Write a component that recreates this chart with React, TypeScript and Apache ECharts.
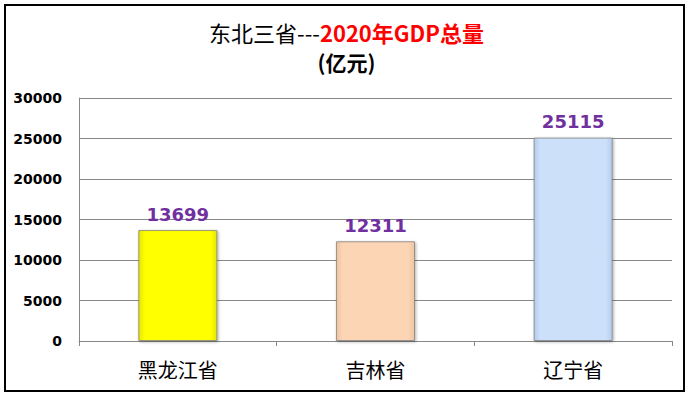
import React, { useEffect, useRef } from "react";
import * as echarts from "echarts";

const categories = ["黑龙江省", "吉林省", "辽宁省"];
const gdpValues = [13699, 12311, 25115];
const barColors = [
  ["#E6E600", "#FFFF00", "#FFFF00", "#E6E600"],
  ["#EEC3A0", "#FCD5B5", "#FCD5B5", "#EEC3A0"],
  ["#B3CBEA", "#CCE0FA", "#CCE0FA", "#B3CBEA"],
];
const yTicks = { min: 0, max: 30000, interval: 5000 };

export default function App() {
  const ref = useRef<HTMLDivElement>(null);
  useEffect(() => {
    if (!ref.current) return;
    const chart = echarts.init(ref.current, null, { renderer: "svg" });
    const data = gdpValues.map((v, i) => {
      const c = barColors[i];
      return {
        value: v,
        itemStyle: {
          color: new echarts.graphic.LinearGradient(0, 0, 1, 0, [
            { offset: 0, color: c[0] },
            { offset: 0.08, color: c[1] },
            { offset: 0.92, color: c[2] },
            { offset: 1, color: c[3] },
          ]),
          borderColor: "rgba(120,120,120,0.7)",
          borderWidth: 1,
          shadowColor: "rgba(0,0,0,0.35)",
          shadowBlur: 3,
          shadowOffsetX: 1,
          shadowOffsetY: 1,
        },
      };
    });
    chart.setOption({
      animation: false,
      backgroundColor: "#ffffff",
      title: {
        text: "{a|东北三省---}{b|2020年GDP总量}\n{c|(亿元)}",
        left: "center",
        top: 12,
        textStyle: {
          fontWeight: "normal",
          rich: {
            a: { fontFamily: "Noto Sans CJK SC", fontSize: 22, fontWeight: "normal", color: "#000", lineHeight: 30 },
            b: { fontFamily: "Noto Sans CJK SC", fontSize: 22, fontWeight: "bold", color: "#FF0000", lineHeight: 30 },
            c: { fontFamily: "Noto Sans CJK SC", fontSize: 21, fontWeight: "bold", color: "#000", lineHeight: 30 },
          },
        },
      },
      graphic: [
        {
          type: "rect",
          shape: { x: 5, y: 5, width: 679, height: 386 },
          style: { fill: "none", stroke: "#000", lineWidth: 2 },
          z: 100,
        },
      ],
      grid: { left: 79, right: 21, top: 98, bottom: 55, containLabel: false },
      xAxis: {
        type: "category",
        data: categories,
        axisLine: { show: true, lineStyle: { color: "#888", width: 1 } },
        axisTick: { show: true, length: 5, lineStyle: { color: "#888" } },
        axisLabel: {
          fontFamily: "Noto Sans CJK SC",
          fontSize: 20,
          color: "#000",
          margin: 18,
        },
      },
      yAxis: {
        type: "value",
        min: yTicks.min,
        max: yTicks.max,
        interval: yTicks.interval,
        axisLine: { show: true, lineStyle: { color: "#888", width: 1 } },
        axisTick: { show: false },
        splitLine: { show: true, lineStyle: { color: "#888", width: 1 } },
        axisLabel: {
          fontFamily: "DejaVu Sans",
          fontSize: 14,
          fontWeight: "bold",
          color: "#000",
          margin: 17,
          formatter: (v: number) => String(v),
        },
      },
      series: [
        {
          type: "bar",
          data,
          barWidth: "40%",
          label: {
            show: true,
            position: "top",
            distance: 7,
            color: "#7030A0",
            fontFamily: "DejaVu Sans",
            fontWeight: "bold",
            fontSize: 18,
          },
        },
      ],
    });
    return () => chart.dispose();
  }, []);
  return (
    <div
      ref={ref}
      style={{ position: "fixed", left: 0, top: 0, width: 693, height: 396 }}
    />
  );
}
